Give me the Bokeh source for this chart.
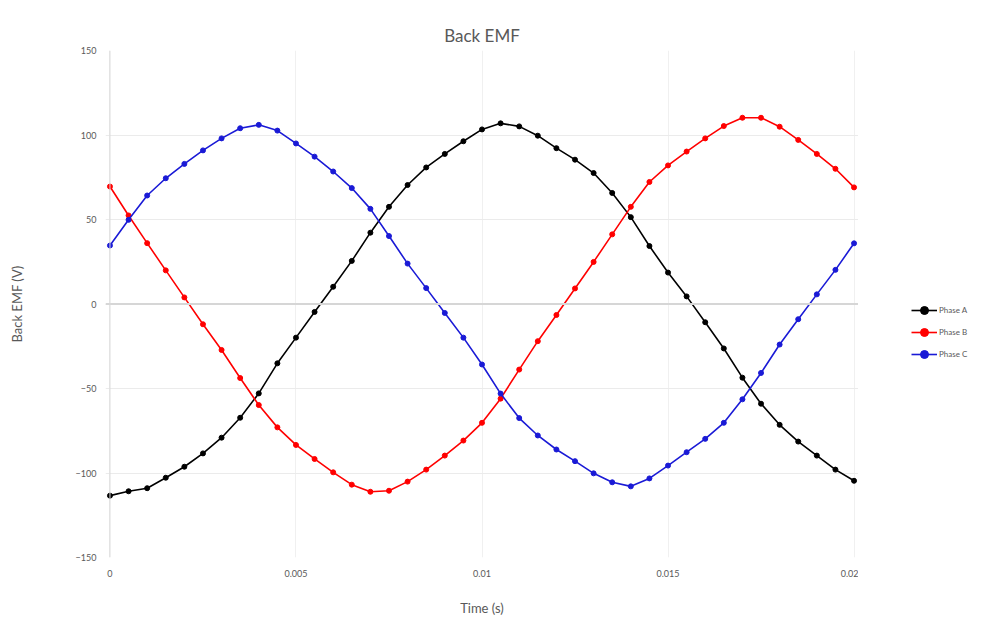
from bokeh.plotting import figure
from bokeh.layouts import row
from bokeh.models import (Range1d, Span, Legend, LegendItem, FixedTicker,
                          CustomJSTickFormatter, Title)
from bokeh.embed import file_html
from bokeh.resources import INLINE

# Time samples (s)
time_s = [0.0, 0.0005, 0.001, 0.0015, 0.002, 0.0025, 0.003, 0.0035, 0.004, 0.0045,
          0.005, 0.0055, 0.006, 0.0065, 0.007, 0.0075, 0.008, 0.0085, 0.009, 0.0095,
          0.01, 0.0105, 0.011, 0.0115, 0.012, 0.0125, 0.013, 0.0135, 0.014, 0.0145,
          0.015, 0.0155, 0.016, 0.0165, 0.017, 0.0175, 0.018, 0.0185, 0.019, 0.0195,
          0.02]

phase_a = [-113.4, -110.8, -109.0, -102.8, -96.3, -88.4, -79.1, -67.3, -52.9, -35.1,
           -19.9, -4.7, 10.2, 25.5, 42.2, 57.5, 70.4, 80.8, 88.8, 96.3,
           103.3, 106.9, 105.1, 99.6, 92.2, 85.4, 77.5, 65.7, 51.4, 34.3,
           18.6, 4.5, -10.8, -26.3, -43.6, -59.0, -71.5, -81.4, -89.7, -98.0,
           -104.6]

phase_b = [69.5, 52.4, 36.0, 19.9, 3.9, -12.0, -27.2, -43.8, -59.8, -73.0,
           -83.4, -91.7, -99.6, -106.9, -111.1, -110.5, -105.1, -98.0, -89.7, -80.8,
           -70.3, -56.0, -38.8, -22.0, -6.5, 9.2, 24.9, 41.2, 57.5, 72.2,
           82.0, 90.2, 98.0, 105.3, 110.2, 110.2, 104.9, 97.1, 88.8, 80.0,
           69.0]

phase_c = [34.6, 49.8, 64.2, 74.4, 82.9, 90.9, 98.0, 104.0, 106.0, 102.6,
           95.0, 87.2, 78.4, 68.6, 56.3, 40.2, 23.9, 9.4, -5.3, -19.9,
           -35.8, -53.0, -67.5, -77.8, -86.1, -93.0, -100.2, -105.5, -107.9, -103.2,
           -95.6, -87.7, -79.8, -70.3, -56.4, -40.8, -24.0, -9.0, 5.7, 20.2,
           35.9]

series_names = ["Phase A", "Phase B", "Phase C"]
series_colors = ["#000000", "#ff0000", "#1a1ad6"]

x_ticks = [0, 0.005, 0.01, 0.015, 0.02]
y_ticks = [-150, -100, -50, 0, 50, 100, 150]

FONT = "Lato"
TXT = "#595959"
H = 620

p = figure(width=858, height=H, output_backend="svg", toolbar_location=None,
           title=None,
           x_range=Range1d(-0.00012, 0.02012), y_range=Range1d(-150, 150),
           min_border_left=105, min_border_right=0, min_border_top=50,
           min_border_bottom=H - 557, background_fill_color="white",
           border_fill_color="white", outline_line_color=None)

# spacer panel next to the frame, then the title above it
p.add_layout(Title(text=".", text_font_size="1px", text_alpha=0, standoff=14), "above")
p.add_layout(Title(text="Back EMF", align="center", text_font=FONT,
                   text_font_size="17px", text_font_style="normal",
                   text_color=TXT, standoff=10), "above")

# axes
p.xaxis.ticker = FixedTicker(ticks=x_ticks)
p.xaxis.formatter = CustomJSTickFormatter(code="return String(Number(tick.toPrecision(6)));")
p.yaxis.ticker = FixedTicker(ticks=y_ticks)
for ax in (p.xaxis[0], p.yaxis[0]):
    ax.axis_line_color = None
    ax.major_tick_line_color = None
    ax.minor_tick_line_color = None
    ax.major_tick_out = 0
    ax.major_tick_in = 0
    ax.minor_tick_out = 0
    ax.minor_tick_in = 0
    ax.major_label_text_font = FONT
    ax.major_label_text_font_size = "9px"
    ax.major_label_text_color = TXT
    ax.axis_label_text_font = FONT
    ax.axis_label_text_font_size = "13px"
    ax.axis_label_text_font_style = "normal"
    ax.axis_label_text_color = TXT
p.xaxis.axis_label = "Time (s)"
p.yaxis.axis_label = "Back EMF (V)"
p.xaxis.major_label_standoff = 12
p.xaxis.axis_label_standoff = 20
p.yaxis.major_label_standoff = 9
p.yaxis.axis_label_standoff = 48

p.xgrid.ticker = FixedTicker(ticks=x_ticks)
p.ygrid.ticker = FixedTicker(ticks=y_ticks)
p.xgrid.grid_line_color = "#f0f0f0"
p.ygrid.grid_line_color = "#ebebeb"
p.xgrid.grid_line_width = 1
p.ygrid.grid_line_width = 1

p.add_layout(Span(location=0, dimension="width", line_color="#d6d6d6", line_width=2))
p.add_layout(Span(location=0, dimension="height", line_color="#d9d9d9", line_width=1))

for vals, col in zip([phase_a, phase_b, phase_c], series_colors):
    p.line(time_s, vals, line_color=col, line_width=1.6)
    p.scatter(time_s, vals, size=5, fill_color=col, line_color=col, marker="circle")

# legend panel to the right (its renderers hold the same series, kept out of view)
p2 = figure(width=982 - 858, height=H, output_backend="svg", toolbar_location=None,
            title=None, x_axis_location=None, y_axis_location=None,
            x_range=Range1d(1, 2), y_range=Range1d(1000, 2000),
            min_border_left=0, min_border_right=0, min_border_top=0, min_border_bottom=0,
            outline_line_color=None, background_fill_color="white",
            border_fill_color="white")
p2.grid.visible = False

items = []
for name, vals, col in zip(series_names, [phase_a, phase_b, phase_c], series_colors):
    l = p2.line(time_s, vals, line_color=col, line_width=1.6)
    s = p2.scatter(time_s, vals, size=4.5, fill_color=col, line_color=col, marker="circle")
    items.append(LegendItem(label=name, renderers=[l, s]))

legend = Legend(items=items, location=(53, 193), orientation="vertical",
                padding=0, spacing=2, glyph_width=26, glyph_height=20,
                label_height=20, label_standoff=2, margin=0,
                label_text_font=FONT, label_text_font_size="8px",
                label_text_color=TXT, border_line_color=None,
                background_fill_alpha=0)
p2.add_layout(legend, "center")

layout = row(p, p2)
open("out.html", "w").write(file_html(layout, INLINE))
